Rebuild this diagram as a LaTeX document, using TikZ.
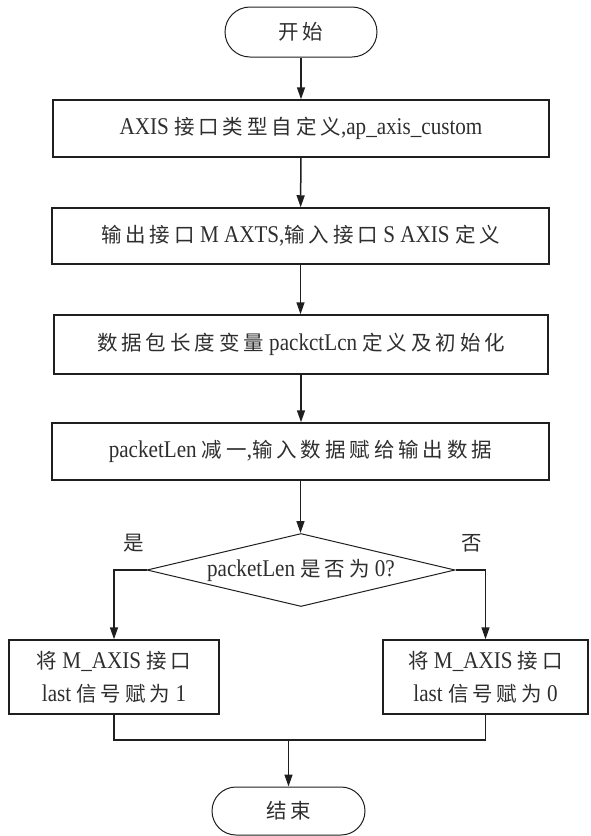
\documentclass[tikz,border=0pt]{standalone}
\usepackage{fontspec}
\setmainfont{Liberation Serif}[FakeStretch=0.88]
\newfontfamily\zhfont{Noto Sans CJK SC}[LetterSpace=19]
\newcommand{\zht}[1]{{\zhfont\fontsize{20.5}{33}\selectfont #1}}
\usetikzlibrary{arrows.meta,shapes.misc,shapes.geometric}
\definecolor{ink}{gray}{0.12}
\definecolor{txt}{gray}{0.18}
\tikzset{
  base/.style={draw=ink, text=txt, inner sep=0pt, font=\fontsize{24}{33}\selectfont},
  procbox/.style={base, rectangle, line width=1.5pt},
  term/.style={base, rounded rectangle, line width=1pt},
  decide/.style={draw=ink, diamond, line width=1pt, inner sep=0pt},
  arr/.style={draw=ink, line width=1.5pt, -{Triangle[length=12pt,width=8pt]}},
  ln/.style={draw=ink, line width=1.5pt},
  lab/.style={text=txt, inner sep=0pt}
}
\begin{document}
\begin{tikzpicture}[x=1pt,y=-1pt]
\useasboundingbox (0,0) rectangle (590,836);
\node[term, minimum width=152pt, minimum height=50pt] (start) at (301,32) {\zht{开始}};
\node[procbox, minimum width=496pt, minimum height=57pt] (b1) at (301,128.5)
  {AXIS \zht{接口类型自定义},ap\_axis\_custom};
\node[procbox, minimum width=497pt, minimum height=56pt] (b2) at (300.5,236)
  {\zht{输出接口} M AXTS,\zht{输入接口} S AXIS \zht{定义}};
\node[procbox, minimum width=494pt, minimum height=59pt] (b3) at (301,344.5)
  {\zht{数据包长度变量} packctLcn \zht{定义及初始化}};
\node[procbox, minimum width=497pt, minimum height=57pt] (b4) at (300.5,451.5)
  {packetLen \zht{减一},\zht{输入数据赋给输出数据}};
\node[decide, minimum width=308pt, minimum height=73pt] (dia) at (301,570) {};
\node[lab, font=\fontsize{24}{33}\selectfont] (diat) at (301,570) {packetLen \zht{是否为} 0?};
\node[procbox, minimum width=210pt, minimum height=74pt, align=center] (lbox) at (114,677)
  {\zht{将} M\_AXIS \zht{接口}\\last \zht{信号赋为} 1};
\node[procbox, minimum width=205pt, minimum height=74pt, align=center] (rbox) at (485.5,677)
  {\zht{将} M\_AXIS \zht{接口}\\last \zht{信号赋为} 0};
\node[term, minimum width=153pt, minimum height=48pt] (end) at (288.5,811) {\zht{结束}};
\node[lab] (yes) at (134,543) {\zht{是}};
\node[lab] (no) at (472,543) {\zht{否}};
\coordinate (j) at (288.5,740);

\draw[arr] (start.south -| b1.north) -- (b1.north);
\draw[arr] (b1) -- (b2);
\draw[arr] (b2.south) -- (b3.north -| b2.south);
\draw[arr] (b3.south) -- (b4.north -| b3.south);
\draw[arr] (b4.south) -- (dia.north -| b4.south);
\draw[arr] (dia.west) -| (lbox.north);
\draw[arr] (dia.east) -| (rbox.north);
\draw[ln] (lbox.south) -- (lbox.south |- j) -- (rbox.south |- j) -- (rbox.south);
\draw[arr] (j) -- (end.north);
\end{tikzpicture}
\end{document}
